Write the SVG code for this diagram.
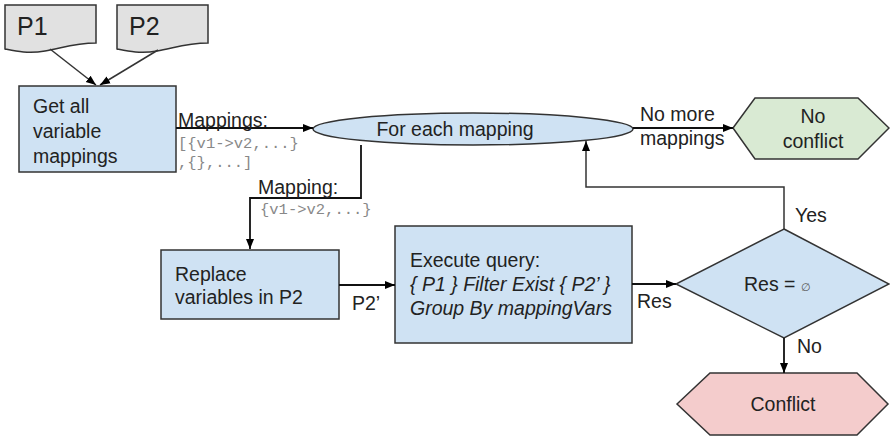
<svg xmlns="http://www.w3.org/2000/svg" width="890" height="437" viewBox="0 0 890 437">
<defs>
<marker id="ah" viewBox="0 0 10 10" refX="10" refY="5" markerWidth="10" markerHeight="10" markerUnits="userSpaceOnUse" orient="auto">
<path d="M0,1 L10,5 L0,9 Z" fill="#000"/>
</marker>
<style>
.box{fill:#cfe2f3;stroke:#333;stroke-width:1.5}
.doc{fill:#e1e1e1;stroke:#333;stroke-width:1.5}
.t{font-family:"Liberation Sans",Arial,sans-serif;font-size:19.5px;fill:#222}
.m{font-family:"Liberation Mono","Courier New",monospace;font-size:15.5px;fill:#888}
.c{fill:none;stroke:#111;stroke-width:1.8}
.c2{fill:none;stroke:#333;stroke-width:1.5}
</style>
</defs>
<rect width="890" height="437" fill="#fff"/>
<g id="p1">
<path class="doc" d="M5,5 H96 V43 C75,43 62,48 45,51 C28,54 15,51 5,49 Z"/>
<text class="t" x="17" y="35" style="font-size:25px">P1</text>
</g>
<g id="p2">
<path class="doc" d="M117,5 H208 V43 C187,43 174,48 157,51 C140,54 127,51 117,49 Z"/>
<text class="t" x="129" y="35" style="font-size:25px">P2</text>
</g>
<g id="getall">
<rect class="box" x="19" y="86" width="157" height="86"/>
<text class="t" x="33" y="113">Get all</text>
<text class="t" x="33" y="138">variable</text>
<text class="t" x="33" y="163">mappings</text>
</g>
<g id="foreach">
<ellipse class="box" cx="473" cy="129" rx="160" ry="16"/>
<text class="t" x="455" y="136" text-anchor="middle">For each mapping</text>
</g>
<g id="noconflict">
<polygon points="733,128 755,98 858,98 889,128 858,159 755,159" fill="#d9ead3" stroke="#333" stroke-width="1.5"/>
<text class="t" x="813" y="123" text-anchor="middle">No</text>
<text class="t" x="813" y="148" text-anchor="middle">conflict</text>
</g>
<g id="replace">
<rect class="box" x="161" y="250" width="178" height="69"/>
<text class="t" x="175" y="281">Replace</text>
<text class="t" x="175" y="304">variables in P2</text>
</g>
<g id="execute">
<rect class="box" x="395" y="226" width="237" height="117"/>
<text class="t" x="410" y="267">Execute query:</text>
<text class="t" x="410" y="291" font-style="italic">{ P1 } Filter Exist { P2’ }</text>
<text class="t" x="410" y="315" font-style="italic">Group By mappingVars</text>
</g>
<g id="decision">
<polygon points="784,229 889,284 784,338 676,284" fill="#cfe2f3" stroke="#333" stroke-width="1.5"/>
<text class="t" x="744" y="291">Res = <tspan style="font-size:11px;fill:#555">∅</tspan></text>
</g>
<g id="conflict">
<polygon points="677,404 710,373 857,373 888,404 857,435 710,435" fill="#f4cccc" stroke="#333" stroke-width="1.5"/>
<text class="t" x="783" y="411" text-anchor="middle">Conflict</text>
</g>
<g id="connectors">
<line class="c2" x1="50" y1="49" x2="96" y2="85" marker-end="url(#ah)"/>
<line class="c2" x1="158" y1="50" x2="100" y2="85" marker-end="url(#ah)"/>
<line class="c" x1="176" y1="128" x2="313" y2="128" marker-end="url(#ah)"/>
<text class="t" x="178" y="127">Mappings:</text>
<text class="m" x="178" y="148">[{v1-&gt;v2,...}</text>
<text class="m" x="178" y="167">,{},...]</text>
<polyline class="c" points="361,145 361,198 250,198 250,249" marker-end="url(#ah)"/>
<text class="t" x="258" y="194">Mapping:</text>
<text class="m" x="260" y="214">{v1-&gt;v2,...}</text>
<line class="c" x1="633" y1="128" x2="733" y2="128" marker-end="url(#ah)"/>
<text class="t" x="640" y="121">No more</text>
<text class="t" x="640" y="145">mappings</text>
<line class="c" x1="339" y1="285" x2="395" y2="285" marker-end="url(#ah)"/>
<text class="t" x="352" y="310">P2’</text>
<line class="c" x1="632" y1="284" x2="676" y2="284" marker-end="url(#ah)"/>
<text class="t" x="637" y="308">Res</text>
<polyline class="c2" points="784,229 784,187 586,187 586,141" marker-end="url(#ah)"/>
<text class="t" x="795" y="222">Yes</text>
<line class="c" x1="784" y1="338" x2="784" y2="373" marker-end="url(#ah)"/>
<text class="t" x="797" y="353">No</text>
</g>
</svg>
